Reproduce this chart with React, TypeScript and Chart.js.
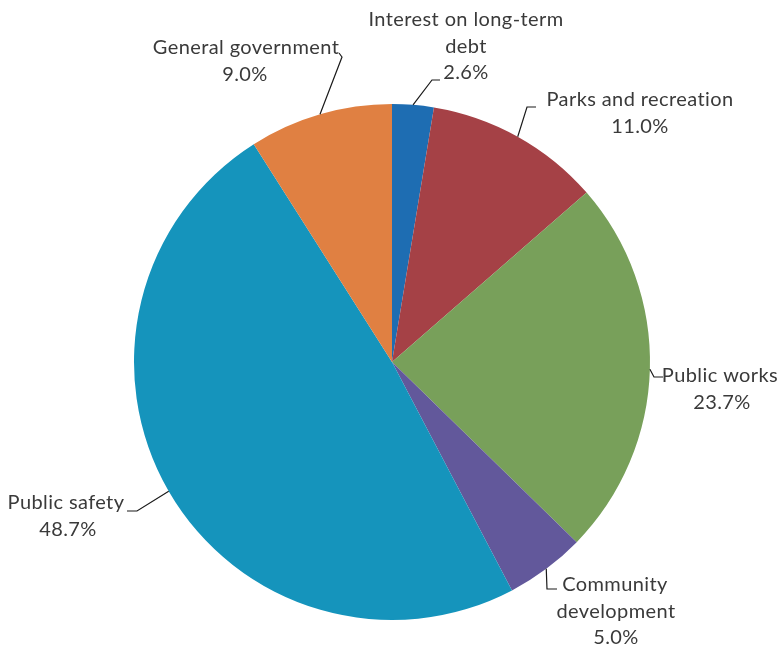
import React, { useEffect, useRef } from "react";
import { Chart, registerables } from "chart.js";

Chart.register(...registerables);

const categories = [
  "Interest on long-term debt",
  "Parks and recreation",
  "Public works",
  "Community development",
  "Public safety",
  "General government",
];
const values = [2.6, 11.0, 23.7, 5.0, 48.7, 9.0];
const colors = ["#1e6db2", "#a54146", "#78a05a", "#62589b", "#1594bc", "#e08042"];
const labelLines = [
  ["Interest on long-term", "debt"],
  ["Parks and recreation"],
  ["Public works"],
  ["Community", "development"],
  ["Public safety"],
  ["General government"],
];

// label layout (pixel geometry, styling only)
const labelLayout = [
  { xs: [466, 466, 466], y0: 20, elbow: [432, 80], end: [440, 80] },
  { xs: [640, 640], y0: 100, elbow: [527, 107], end: [536, 107] },
  { xs: [720, 722], y0: 376, elbow: [654, 377], end: [663, 377] },
  { xs: [615, 616, 616], y0: 585, elbow: [547, 589], end: [557, 589] },
  { xs: [66, 68], y0: 503, elbow: [137, 511], end: [127, 511] },
  { xs: [246, 245], y0: 48, elbow: [342, 57], end: [339, 53] },
];
const lineGap = 26.5;

const labelPlugin = {
  id: "pieLabels",
  afterDraw(chart: any) {
    const ctx = chart.ctx;
    const meta = chart.getDatasetMeta(0);
    ctx.save();
    meta.data.forEach((arc: any, i: number) => {
      const mid = (arc.startAngle + arc.endAngle) / 2;
      const sx = arc.x + Math.cos(mid) * arc.outerRadius;
      const sy = arc.y + Math.sin(mid) * arc.outerRadius;
      const L = labelLayout[i];
      ctx.strokeStyle = "#1a1a1a";
      ctx.lineWidth = 1.2;
      ctx.beginPath();
      ctx.moveTo(sx, sy);
      ctx.lineTo(L.elbow[0], L.elbow[1]);
      ctx.lineTo(L.end[0], L.end[1]);
      ctx.stroke();
      const lines = [...labelLines[i], values[i].toFixed(1) + "%"];
      ctx.fillStyle = "#3a3a3a";
      ctx.font = "20px Lato, 'Liberation Sans', sans-serif";
      (ctx as any).letterSpacing = "0.4px";
      ctx.textAlign = "center";
      ctx.textBaseline = "middle";
      lines.forEach((t, k) => {
        ctx.fillText(t, L.xs[k], L.y0 + k * lineGap);
      });
    });
    ctx.restore();
  },
};

export default function App() {
  const ref = useRef<HTMLCanvasElement>(null);
  useEffect(() => {
    document.body.style.margin = "0";
    const chart = new Chart(ref.current as HTMLCanvasElement, {
      type: "pie",
      data: {
        labels: categories,
        datasets: [
          {
            data: values,
            backgroundColor: colors,
            borderWidth: 0,
          },
        ],
      },
      options: {
        responsive: false,
        animation: false,
        layout: { padding: { top: 104, bottom: 27, left: 134, right: 130 } },
        plugins: {
          legend: { display: false },
          tooltip: { enabled: false },
        },
      },
      plugins: [labelPlugin],
    });
    return () => chart.destroy();
  }, []);
  return (
    <div style={{ width: 780, height: 647, background: "#fff" }}>
      <canvas ref={ref} width={780} height={647} />
    </div>
  );
}
